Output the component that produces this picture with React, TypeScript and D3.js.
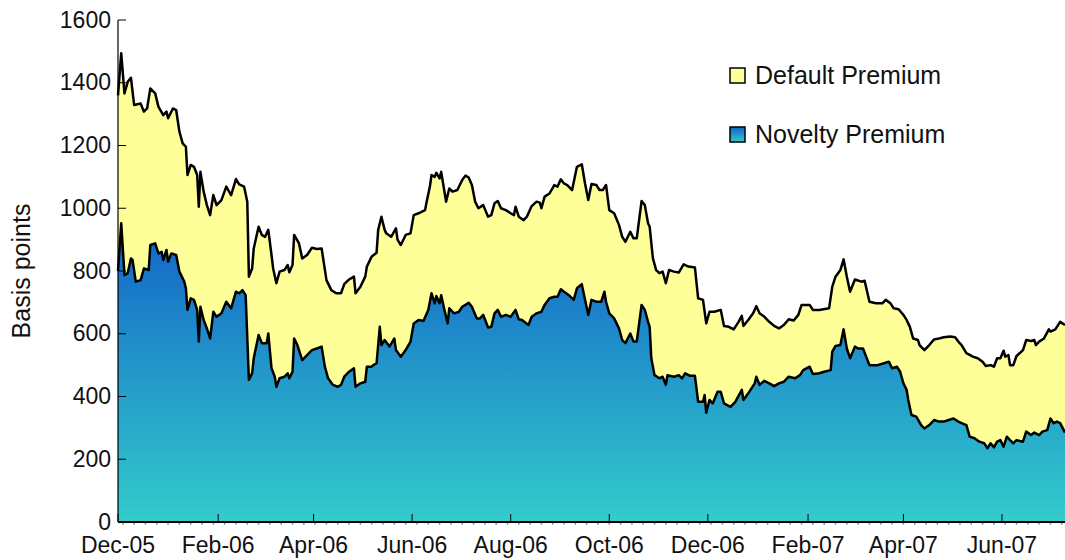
import React from "react";
import * as d3 from "d3";

const yTickValues = [0, 200, 400, 600, 800, 1000, 1200, 1400, 1600];
const xTickDates = [
  "2005-12-01", "2006-02-01", "2006-04-01", "2006-06-01", "2006-08-01",
  "2006-10-01", "2006-12-01", "2007-02-01", "2007-04-01", "2007-06-01",
];
const legendLabels = ["Default Premium", "Novelty Premium"];
const yAxisTitle = "Basis points";

// Top line: total spread (novelty + default premium), basis points
const totalSpread: [string, number][] = [
  ["2005-12-01", 1360], ["2005-12-03", 1494], ["2005-12-05", 1366], ["2005-12-07", 1403],
  ["2005-12-09", 1416], ["2005-12-11", 1329], ["2005-12-15", 1334], ["2005-12-17", 1308],
  ["2005-12-19", 1318], ["2005-12-21", 1382], ["2005-12-24", 1366], ["2005-12-26", 1324],
  ["2005-12-29", 1297], ["2005-12-31", 1308], ["2006-01-01", 1287], ["2006-01-04", 1318],
  ["2006-01-06", 1313], ["2006-01-08", 1244], ["2006-01-10", 1207], ["2006-01-12", 1196],
  ["2006-01-13", 1106], ["2006-01-15", 1138], ["2006-01-17", 1132], ["2006-01-19", 1106],
  ["2006-01-20", 1005], ["2006-01-21", 1116], ["2006-01-23", 1053], ["2006-01-25", 1010],
  ["2006-01-27", 978], ["2006-01-29", 1042], ["2006-01-31", 1010], ["2006-02-03", 1026],
  ["2006-02-06", 1069], ["2006-02-09", 1042], ["2006-02-12", 1093], ["2006-02-14", 1076],
  ["2006-02-17", 1069], ["2006-02-19", 1021], ["2006-02-20", 782], ["2006-02-22", 808],
  ["2006-02-23", 872], ["2006-02-26", 941], ["2006-02-28", 915], ["2006-03-02", 909],
  ["2006-03-04", 931], ["2006-03-06", 851], ["2006-03-07", 808], ["2006-03-09", 761],
  ["2006-03-11", 798], ["2006-03-14", 803], ["2006-03-16", 819], ["2006-03-17", 796],
  ["2006-03-19", 819], ["2006-03-20", 915], ["2006-03-23", 888], ["2006-03-25", 840],
  ["2006-03-28", 851], ["2006-03-31", 874], ["2006-04-03", 870], ["2006-04-06", 872],
  ["2006-04-09", 771], ["2006-04-12", 739], ["2006-04-15", 729], ["2006-04-18", 729],
  ["2006-04-20", 758], ["2006-04-23", 773], ["2006-04-26", 782], ["2006-04-27", 729],
  ["2006-04-30", 750], ["2006-05-03", 782], ["2006-05-04", 814], ["2006-05-07", 846],
  ["2006-05-10", 858], ["2006-05-11", 931], ["2006-05-13", 973], ["2006-05-15", 931],
  ["2006-05-16", 920], ["2006-05-19", 909], ["2006-05-22", 936], ["2006-05-23", 899],
  ["2006-05-25", 883], ["2006-05-28", 915], ["2006-05-31", 920], ["2006-06-02", 978],
  ["2006-06-05", 984], ["2006-06-09", 994], ["2006-06-10", 1021], ["2006-06-12", 1069],
  ["2006-06-13", 1106], ["2006-06-15", 1100], ["2006-06-16", 1113], ["2006-06-18", 1095],
  ["2006-06-19", 1116], ["2006-06-21", 1053], ["2006-06-22", 1021], ["2006-06-24", 1063],
  ["2006-06-26", 1053], ["2006-06-29", 1058], ["2006-07-02", 1090], ["2006-07-04", 1104],
  ["2006-07-06", 1098], ["2006-07-08", 1074], ["2006-07-10", 1021], ["2006-07-12", 1000],
  ["2006-07-15", 1010], ["2006-07-18", 973], ["2006-07-20", 978], ["2006-07-22", 1016],
  ["2006-07-24", 1023], ["2006-07-26", 1000], ["2006-07-29", 994], ["2006-08-01", 984],
  ["2006-08-03", 978], ["2006-08-04", 1005], ["2006-08-06", 973], ["2006-08-09", 962],
  ["2006-08-11", 973], ["2006-08-14", 1007], ["2006-08-17", 1021], ["2006-08-19", 1018],
  ["2006-08-20", 1000], ["2006-08-22", 1037], ["2006-08-25", 1047], ["2006-08-28", 1074],
  ["2006-08-30", 1069], ["2006-09-01", 1092], ["2006-09-03", 1079], ["2006-09-05", 1074],
  ["2006-09-08", 1058], ["2006-09-11", 1132], ["2006-09-14", 1140], ["2006-09-16", 1079],
  ["2006-09-18", 1026], ["2006-09-20", 1077], ["2006-09-23", 1074], ["2006-09-25", 1058],
  ["2006-09-27", 1058], ["2006-09-29", 1074], ["2006-10-01", 994], ["2006-10-04", 984],
  ["2006-10-07", 947], ["2006-10-09", 909], ["2006-10-11", 893], ["2006-10-14", 925],
  ["2006-10-16", 904], ["2006-10-18", 904], ["2006-10-21", 1023], ["2006-10-23", 1010],
  ["2006-10-25", 952], ["2006-10-26", 941], ["2006-10-28", 840], ["2006-10-30", 803],
  ["2006-11-01", 793], ["2006-11-03", 798], ["2006-11-05", 761], ["2006-11-07", 803],
  ["2006-11-10", 798], ["2006-11-13", 795], ["2006-11-16", 821], ["2006-11-19", 814],
  ["2006-11-23", 811], ["2006-11-25", 713], ["2006-11-28", 708], ["2006-11-30", 633],
  ["2006-12-02", 670], ["2006-12-05", 670], ["2006-12-09", 676], ["2006-12-11", 625],
  ["2006-12-14", 622], ["2006-12-17", 614], ["2006-12-20", 638], ["2006-12-22", 657],
  ["2006-12-23", 625], ["2006-12-26", 644], ["2006-12-29", 665], ["2006-12-31", 688],
  ["2007-01-02", 665], ["2007-01-05", 654], ["2007-01-08", 638], ["2007-01-11", 625],
  ["2007-01-14", 617], ["2007-01-17", 628], ["2007-01-20", 646], ["2007-01-23", 642],
  ["2007-01-26", 660], ["2007-01-28", 692], ["2007-02-02", 692], ["2007-02-04", 676],
  ["2007-02-08", 676], ["2007-02-14", 681], ["2007-02-16", 750], ["2007-02-18", 782],
  ["2007-02-21", 803], ["2007-02-23", 837], ["2007-02-25", 782], ["2007-02-27", 734],
  ["2007-03-02", 773], ["2007-03-06", 766], ["2007-03-08", 769], ["2007-03-11", 702],
  ["2007-03-15", 697], ["2007-03-19", 697], ["2007-03-21", 708], ["2007-03-24", 697],
  ["2007-03-26", 681], ["2007-03-29", 678], ["2007-04-01", 660], ["2007-04-03", 644],
  ["2007-04-05", 622], ["2007-04-07", 585], ["2007-04-10", 580], ["2007-04-11", 564],
  ["2007-04-14", 548], ["2007-04-17", 564], ["2007-04-20", 582], ["2007-04-23", 585],
  ["2007-04-26", 589], ["2007-04-30", 591], ["2007-05-03", 589], ["2007-05-05", 575],
  ["2007-05-07", 564], ["2007-05-10", 538], ["2007-05-14", 527], ["2007-05-17", 522],
  ["2007-05-20", 511], ["2007-05-22", 497], ["2007-05-25", 500], ["2007-05-27", 495],
  ["2007-05-29", 522], ["2007-05-31", 522], ["2007-06-02", 546], ["2007-06-03", 527],
  ["2007-06-05", 532], ["2007-06-06", 500], ["2007-06-08", 500], ["2007-06-10", 529],
  ["2007-06-14", 548], ["2007-06-16", 580], ["2007-06-19", 577], ["2007-06-21", 580],
  ["2007-06-22", 564], ["2007-06-24", 575], ["2007-06-27", 585], ["2007-06-30", 614],
  ["2007-07-01", 607], ["2007-07-04", 614], ["2007-07-07", 638], ["2007-07-10", 628],
];

// Bottom band: novelty premium, basis points
const noveltyPremium: [string, number][] = [
  ["2005-12-01", 800], ["2005-12-03", 952], ["2005-12-05", 787], ["2005-12-07", 793],
  ["2005-12-09", 840], ["2005-12-10", 835], ["2005-12-12", 766], ["2005-12-15", 771],
  ["2005-12-17", 808], ["2005-12-20", 803], ["2005-12-21", 883], ["2005-12-24", 888],
  ["2005-12-26", 856], ["2005-12-28", 861], ["2005-12-29", 835], ["2005-12-31", 867],
  ["2006-01-01", 830], ["2006-01-03", 856], ["2006-01-06", 851], ["2006-01-08", 798],
  ["2006-01-11", 766], ["2006-01-12", 745], ["2006-01-13", 676], ["2006-01-15", 713],
  ["2006-01-17", 708], ["2006-01-19", 676], ["2006-01-20", 575], ["2006-01-21", 686],
  ["2006-01-23", 644], ["2006-01-25", 617], ["2006-01-27", 585], ["2006-01-29", 670],
  ["2006-01-31", 654], ["2006-02-03", 665], ["2006-02-06", 702], ["2006-02-09", 681],
  ["2006-02-12", 734], ["2006-02-14", 729], ["2006-02-16", 739], ["2006-02-18", 723],
  ["2006-02-20", 453], ["2006-02-22", 474], ["2006-02-23", 522], ["2006-02-26", 596],
  ["2006-02-28", 570], ["2006-03-03", 570], ["2006-03-04", 601], ["2006-03-06", 490],
  ["2006-03-08", 463], ["2006-03-09", 431], ["2006-03-11", 458], ["2006-03-14", 463],
  ["2006-03-16", 474], ["2006-03-17", 458], ["2006-03-19", 479], ["2006-03-20", 585],
  ["2006-03-22", 564], ["2006-03-25", 516], ["2006-03-28", 532], ["2006-03-31", 548],
  ["2006-04-03", 553], ["2006-04-06", 559], ["2006-04-08", 495], ["2006-04-10", 458],
  ["2006-04-13", 437], ["2006-04-16", 431], ["2006-04-18", 437], ["2006-04-20", 463],
  ["2006-04-23", 479], ["2006-04-26", 490], ["2006-04-27", 431], ["2006-04-30", 442],
  ["2006-05-03", 447], ["2006-05-04", 495], ["2006-05-07", 495], ["2006-05-08", 500],
  ["2006-05-10", 506], ["2006-05-12", 622], ["2006-05-13", 564], ["2006-05-15", 580],
  ["2006-05-18", 559], ["2006-05-21", 585], ["2006-05-22", 548], ["2006-05-25", 527],
  ["2006-05-28", 548], ["2006-05-31", 575], ["2006-06-02", 633], ["2006-06-05", 644],
  ["2006-06-08", 641], ["2006-06-11", 676], ["2006-06-13", 729], ["2006-06-15", 697],
  ["2006-06-16", 720], ["2006-06-18", 697], ["2006-06-19", 723], ["2006-06-21", 676],
  ["2006-06-23", 633], ["2006-06-24", 681], ["2006-06-27", 665], ["2006-06-30", 670],
  ["2006-07-02", 686], ["2006-07-04", 692], ["2006-07-06", 699], ["2006-07-08", 686],
  ["2006-07-11", 649], ["2006-07-13", 649], ["2006-07-15", 660], ["2006-07-18", 620],
  ["2006-07-20", 622], ["2006-07-22", 665], ["2006-07-24", 676], ["2006-07-26", 654],
  ["2006-07-29", 660], ["2006-08-01", 654], ["2006-08-04", 676], ["2006-08-06", 646],
  ["2006-08-08", 644], ["2006-08-12", 628], ["2006-08-14", 654], ["2006-08-17", 665],
  ["2006-08-20", 670], ["2006-08-22", 692], ["2006-08-25", 713], ["2006-08-28", 718],
  ["2006-08-30", 718], ["2006-09-01", 742], ["2006-09-03", 734], ["2006-09-06", 723],
  ["2006-09-09", 708], ["2006-09-11", 745], ["2006-09-14", 758], ["2006-09-16", 708],
  ["2006-09-18", 660], ["2006-09-20", 708], ["2006-09-23", 702], ["2006-09-26", 702],
  ["2006-09-28", 734], ["2006-09-29", 702], ["2006-10-01", 665], ["2006-10-04", 649],
  ["2006-10-07", 617], ["2006-10-09", 580], ["2006-10-11", 570], ["2006-10-14", 601],
  ["2006-10-16", 575], ["2006-10-18", 575], ["2006-10-21", 692], ["2006-10-23", 676],
  ["2006-10-25", 638], ["2006-10-26", 622], ["2006-10-27", 522], ["2006-10-29", 468],
  ["2006-11-01", 458], ["2006-11-03", 463], ["2006-11-05", 437], ["2006-11-06", 468],
  ["2006-11-10", 463], ["2006-11-13", 468], ["2006-11-15", 458], ["2006-11-17", 474],
  ["2006-11-20", 466], ["2006-11-23", 466], ["2006-11-25", 383], ["2006-11-28", 383],
  ["2006-11-29", 405], ["2006-11-30", 348], ["2006-12-02", 389], ["2006-12-04", 378],
  ["2006-12-07", 415], ["2006-12-09", 415], ["2006-12-11", 378], ["2006-12-15", 367],
  ["2006-12-18", 383], ["2006-12-22", 421], ["2006-12-23", 389], ["2006-12-26", 410],
  ["2006-12-30", 442], ["2006-12-31", 463], ["2007-01-02", 437], ["2007-01-05", 450],
  ["2007-01-08", 442], ["2007-01-11", 433], ["2007-01-14", 442], ["2007-01-17", 447],
  ["2007-01-20", 463], ["2007-01-24", 458], ["2007-01-27", 468], ["2007-01-29", 484],
  ["2007-02-02", 495], ["2007-02-04", 472], ["2007-02-08", 474], ["2007-02-11", 479],
  ["2007-02-15", 484], ["2007-02-16", 543], ["2007-02-18", 561], ["2007-02-21", 564],
  ["2007-02-23", 614], ["2007-02-25", 553], ["2007-02-27", 522], ["2007-03-02", 559],
  ["2007-03-04", 553], ["2007-03-07", 553], ["2007-03-11", 500], ["2007-03-16", 500],
  ["2007-03-20", 506], ["2007-03-23", 511], ["2007-03-25", 490], ["2007-03-28", 495],
  ["2007-03-30", 479], ["2007-04-01", 442], ["2007-04-03", 421], ["2007-04-04", 389],
  ["2007-04-06", 341], ["2007-04-09", 336], ["2007-04-12", 309], ["2007-04-14", 298],
  ["2007-04-17", 309], ["2007-04-20", 325], ["2007-04-23", 320], ["2007-04-26", 320],
  ["2007-04-29", 325], ["2007-05-02", 330], ["2007-05-05", 320], ["2007-05-07", 315],
  ["2007-05-10", 309], ["2007-05-12", 272], ["2007-05-15", 267], ["2007-05-18", 256],
  ["2007-05-21", 251], ["2007-05-23", 235], ["2007-05-25", 251], ["2007-05-27", 238],
  ["2007-05-29", 256], ["2007-05-31", 261], ["2007-06-02", 240], ["2007-06-04", 272],
  ["2007-06-06", 261], ["2007-06-08", 251], ["2007-06-10", 261], ["2007-06-14", 256],
  ["2007-06-16", 288], ["2007-06-19", 277], ["2007-06-21", 285], ["2007-06-24", 277],
  ["2007-06-26", 288], ["2007-06-29", 293], ["2007-07-01", 330], ["2007-07-03", 315],
  ["2007-07-05", 320], ["2007-07-07", 315], ["2007-07-10", 285],
];

const parse = d3.timeParse("%Y-%m-%d");
const fmt = d3.timeFormat("%b-%y");

type Pt = { date: Date; v: number };

export default function App() {
  const W = 1065;
  const H = 560;
  const left = 118;
  const right = 1065;
  const top = 20;
  const bottom = 522;
  const font = "'Liberation Sans', Arial, Helvetica, sans-serif";
  const fs = 23;
  const fsBig = 25;

  const x = d3
    .scaleTime()
    .domain([parse("2005-12-01") as Date, parse("2007-07-10") as Date])
    .range([left, right]);
  const y = d3.scaleLinear().domain([0, 1600]).range([bottom, top]);

  const tot: Pt[] = totalSpread.map(([d, v]) => ({ date: parse(d) as Date, v }));
  const nov: Pt[] = noveltyPremium.map(([d, v]) => ({ date: parse(d) as Date, v }));

  const area = d3
    .area<Pt>()
    .x((d) => x(d.date))
    .y0(y(0))
    .y1((d) => y(d.v));
  const line = d3
    .line<Pt>()
    .x((d) => x(d.date))
    .y((d) => y(d.v));

  const minorTicks = d3.timeWeek.range(x.domain()[0], x.domain()[1]);
  const majorTicks = xTickDates.map((s) => parse(s) as Date);

  return (
    <svg
      width={W}
      height={H}
      style={{ position: "absolute", left: 0, top: 0, background: "#fff" }}
      fontFamily={font}
    >
      <defs>
        <linearGradient
          id="novGrad"
          gradientUnits="userSpaceOnUse"
          x1={0}
          x2={0}
          y1={y(960)}
          y2={y(0)}
        >
          <stop offset="0%" stopColor="#1262C8" />
          <stop offset="100%" stopColor="#33CCCC" />
        </linearGradient>
        <linearGradient id="novGradLegend" x1="0" x2="0" y1="0" y2="1">
          <stop offset="0%" stopColor="#1262C8" />
          <stop offset="100%" stopColor="#33CCCC" />
        </linearGradient>
      </defs>

      {/* areas */}
      <path d={area(tot) || ""} fill="#FFFF99" />
      <path d={area(nov) || ""} fill="url(#novGrad)" />
      <path d={line(tot) || ""} fill="none" stroke="#000" strokeWidth={2.5} strokeLinejoin="round" />
      <path d={line(nov) || ""} fill="none" stroke="#000" strokeWidth={2.5} strokeLinejoin="round" />

      {/* y axis */}
      {yTickValues.map((t) => (
        <g key={"y" + t}>
          <line x1={left} x2={left + 8} y1={y(t)} y2={y(t)} stroke="#000" strokeWidth={1} />
          <text x={left - 7} y={y(t)} dy="0.33em" textAnchor="end" fontSize={fs} fill="#111">
            {t}
          </text>
        </g>
      ))}
      <line x1={left} x2={left} y1={top} y2={bottom} stroke="#000" strokeWidth={1.2} />

      {/* x axis */}
      {minorTicks.map((d, i) => (
        <line
          key={"m" + i}
          x1={x(d)}
          x2={x(d)}
          y1={bottom}
          y2={bottom + 2.5}
          stroke="#777"
          strokeWidth={1.5}
        />
      ))}
      <line x1={left} x2={right} y1={bottom} y2={bottom} stroke="#000" strokeWidth={2} />
      {majorTicks.map((d, i) => (
        <g key={"x" + i}>
          <line x1={x(d)} x2={x(d)} y1={bottom} y2={bottom - 8} stroke="#000" strokeWidth={1} />
          <text x={x(d)} y={553} textAnchor="middle" fontSize={fs} fill="#111">
            {fmt(d)}
          </text>
        </g>
      ))}

      {/* y title */}
      <text
        transform={`translate(30, 271) rotate(-90)`}
        textAnchor="middle"
        fontSize={fsBig}
        fill="#111"
      >
        {yAxisTitle}
      </text>

      {/* legend */}
      {legendLabels.map((lab, i) => (
        <g key={lab} transform={`translate(730, ${68 + i * 59})`}>
          <rect
            x={0}
            y={0}
            width={15}
            height={15}
            fill={i === 0 ? "#FFFF99" : "url(#novGradLegend)"}
            stroke="#000"
            strokeWidth={1.5}
          />
          <text x={25} y={15.5} fontSize={fsBig} fill="#111">
            {lab}
          </text>
        </g>
      ))}
    </svg>
  );
}
